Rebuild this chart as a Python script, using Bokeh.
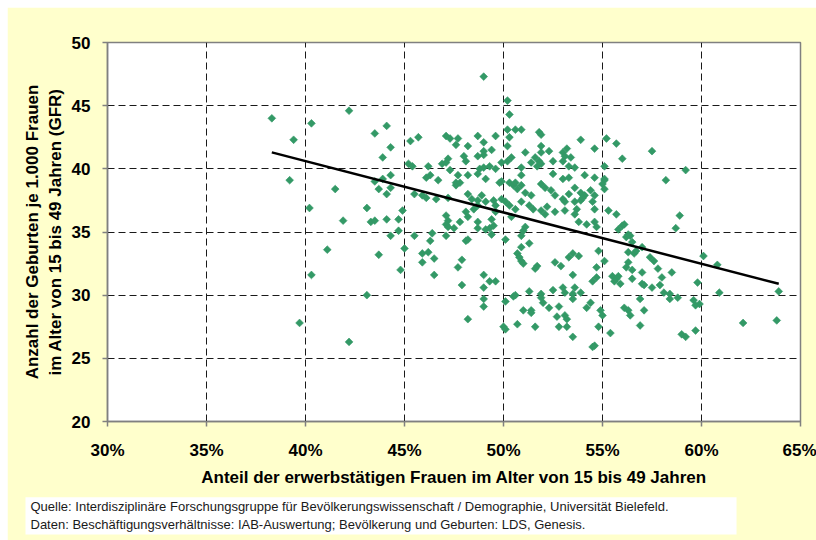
from bokeh.plotting import figure
from bokeh.models import Title, FixedTicker
from bokeh.embed import file_html
from bokeh.resources import INLINE

# Share of employed women aged 15-49 (percent) and general fertility rate (GFR)
x_pct = [
    38.3, 40.3, 42.2, 39.4, 44.1, 43.5, 44.3, 43.9, 39.2, 41.5, 43.5, 43.9, 44.3, 43.7, 44.3, 44.1,
    40.2, 43.1, 41.9, 43.3, 43.5, 44.1, 44.7, 44.7, 44.3, 41.1, 43.7, 44.8, 40.3, 43.1, 39.7, 42.2,
    50.2, 50.3, 50.2, 50.6, 45.3, 45.7, 47.1, 47.3, 47.7, 47.6, 48.7, 49.0, 48.2, 49.6, 50.3, 50.2,
    49.0, 49.4, 48.0, 47.2, 48.1, 48.7, 49.0, 50.4, 50.2, 45.2, 46.2, 46.9, 47.1, 45.4, 46.3, 46.7,
    46.1, 47.3, 47.7, 47.6, 48.2, 48.8, 49.0, 49.3, 49.6, 49.9, 48.7, 49.1, 49.8, 49.9, 50.3, 50.5,
    50.7, 47.6, 47.8, 45.5, 45.9, 46.1, 46.6, 47.2, 48.2, 48.4, 48.7, 48.9, 49.1, 49.5, 49.6, 49.9,
    50.1, 50.3, 44.9, 47.1, 47.2, 48.1, 48.2, 48.5, 48.7, 49.6, 49.4, 50.4, 50.6,
    50.9, 51.8, 51.9, 53.9, 55.2, 55.7, 56.0, 54.6, 53.2, 53.0, 53.4, 53.1, 51.9, 52.3, 51.9, 51.1,
    51.6, 51.8, 51.4, 51.7, 51.9, 52.5, 53.0, 53.3, 53.6, 50.9, 50.9, 52.5, 53.0, 53.3, 54.1, 54.6,
    55.1, 50.6, 50.9, 51.1, 51.4, 51.9, 52.1, 52.4, 53.6, 53.9, 54.1, 54.4, 54.6, 55.0, 55.1, 52.6,
    53.0, 53.1, 53.3, 50.9, 51.3, 51.5, 51.9, 52.2, 53.6, 53.9, 53.7, 54.0, 54.5, 54.6, 52.1, 52.6,
    53.1, 55.3, 55.7, 53.6,
    45.5, 46.4, 46.3, 47.1, 47.2, 47.5, 47.1, 47.8, 48.7, 48.7, 49.1, 49.3, 49.4, 49.5, 48.1, 48.2,
    45.0, 45.9, 46.2, 45.9, 46.5, 50.1, 50.7, 50.8, 46.5, 47.9, 47.7, 47.9, 49.0, 49.3, 49.6, 49.0,
    49.0, 49.0, 48.2, 50.1, 50.5, 50.0, 50.1, 50.7,
    51.1, 50.9, 51.0, 53.8, 54.2, 54.6, 54.7, 56.0, 55.8, 56.2, 56.4, 50.9, 51.3, 50.9, 51.0, 51.7,
    51.6, 52.6, 52.9, 53.3, 53.5, 53.8, 54.8, 55.1, 56.3, 56.6, 56.7, 57.0, 56.3, 56.2, 56.5, 57.0,
    54.7, 53.5, 54.5, 54.7, 55.5, 55.7, 55.8, 55.6, 55.9, 56.5, 57.0, 56.9, 57.1, 51.3, 51.9, 52.0,
    51.9, 52.5, 53.0, 53.1, 53.5, 53.5, 53.6, 53.9, 50.6, 51.0, 51.4, 51.4, 52.3, 52.8, 52.7, 53.1,
    53.2, 52.8, 53.2, 51.6, 54.2, 54.4, 54.9, 55.0, 54.8, 53.5, 54.5, 54.6, 55.4, 56.1, 56.3, 56.4,
    56.9,
    60.1, 60.8, 60.9, 59.8, 58.5, 58.0, 57.8, 57.6, 57.4, 57.1, 57.5, 57.9, 58.1, 58.4, 58.4, 58.8,
    59.6, 59.9, 59.7, 59.0, 59.2, 59.7, 62.1, 63.8, 63.9, 57.5, 59.2, 58.2, 55.1, 55.1, 58.9, 58.7,
    56.1, 56.3, 56.5, 49.0,
]
gfr = [
    44.0, 43.6, 44.6, 42.3, 43.4, 42.8, 41.7, 40.9, 39.1, 38.4, 39.0, 39.2, 39.5, 38.4, 38.5, 38.0,
    36.9, 36.9, 35.9, 35.8, 35.9, 36.0, 36.0, 35.1, 34.7, 33.6, 33.2, 32.0, 31.6, 30.0, 27.8, 26.3,
    45.4, 44.3, 43.1, 43.1, 42.2, 42.5, 42.6, 42.4, 42.4, 41.9, 42.6, 42.1, 41.8, 42.6, 42.5, 41.8,
    41.4, 41.5, 41.0, 40.8, 40.6, 41.0, 41.1, 40.9, 40.6, 40.4, 40.2, 40.4, 40.5, 40.2, 39.5, 39.1,
    39.3, 39.9, 39.5, 38.7, 39.5, 40.0, 40.1, 40.2, 40.0, 40.5, 39.6, 39.2, 38.9, 39.0, 38.9, 38.7,
    38.4, 38.9, 38.9, 38.0, 37.9, 37.7, 37.6, 37.7, 38.0, 37.6, 37.5, 37.9, 37.4, 37.5, 37.1, 37.6,
    37.4, 37.1, 36.7, 36.3, 35.9, 36.6, 36.2, 36.8, 37.1, 36.6, 36.0, 36.2, 36.8,
    43.1, 42.9, 42.7, 42.3, 42.4, 42.0, 40.8, 41.6, 41.6, 41.3, 40.9, 41.0, 41.8, 41.4, 41.3, 41.3,
    40.9, 40.6, 40.5, 40.2, 40.4, 40.6, 40.6, 40.2, 40.1, 40.1, 39.5, 39.6, 39.2, 39.3, 39.5, 39.3,
    39.1, 38.9, 38.7, 38.1, 37.9, 38.8, 38.5, 38.3, 38.5, 38.1, 37.9, 38.3, 37.9, 38.8, 38.4, 37.9,
    37.6, 37.4, 38.0, 37.4, 37.1, 36.8, 36.7, 37.0, 37.4, 37.5, 36.8, 37.7, 37.4, 36.8, 36.4, 36.6,
    36.7, 36.7, 36.4, 36.4,
    34.7, 34.9, 34.3, 35.6, 35.4, 35.3, 34.7, 35.8, 35.8, 35.3, 35.2, 35.3, 34.8, 35.5, 34.3, 34.4,
    33.7, 33.3, 33.4, 32.6, 32.9, 34.4, 33.3, 33.0, 31.6, 32.8, 32.2, 30.8, 31.6, 31.1, 31.1, 30.6,
    29.7, 29.1, 28.1, 29.5, 29.9, 27.5, 27.3, 27.7,
    35.4, 34.7, 35.1, 35.8, 35.6, 35.8, 35.4, 35.5, 35.2, 34.6, 34.7, 33.8, 34.1, 32.7, 32.5, 32.3,
    32.1, 32.6, 32.3, 33.0, 33.3, 33.1, 33.5, 32.7, 33.4, 33.3, 33.5, 33.8, 32.6, 32.2, 32.0, 31.8,
    32.2, 31.6, 31.1, 31.4, 31.5, 31.3, 31.5, 31.1, 30.9, 31.3, 30.9, 29.7, 28.8, 30.3, 30.1, 29.4,
    29.8, 30.4, 30.6, 30.2, 30.1, 29.7, 30.6, 30.2, 30.0, 28.8, 28.8, 28.6, 29.0, 29.1, 28.3, 28.4,
    28.1, 27.5, 27.5, 27.5, 29.0, 29.4, 28.8, 28.4, 27.5, 26.7, 25.9, 26.0, 27.0, 29.0, 28.8, 28.4,
    27.6,
    33.1, 32.4, 30.2, 31.0, 31.8, 31.4, 32.1, 32.7, 33.0, 30.8, 30.6, 30.8, 30.2, 30.1, 29.7, 29.8,
    29.6, 29.3, 29.2, 26.9, 26.7, 27.2, 27.8, 28.0, 30.3, 41.4, 39.9, 39.1, 40.2, 39.2, 36.3, 35.3,
    35.6, 34.8, 34.2, 47.3,
]

# Linear trend line
trend_x = [38.3, 63.9]
trend_y = [41.3, 30.9]

x_ticks = [30, 35, 40, 45, 50, 55, 60, 65]
x_tick_labels = ["30%", "35%", "40%", "45%", "50%", "55%", "60%", "65%"]
y_ticks = [20, 25, 30, 35, 40, 45, 50]

x_title = "Anteil der erwerbstätigen Frauen im Alter von 15 bis 49 Jahren"
y_title = "Anzahl der Geburten je 1.000 Frauen\nim Alter von 15 bis 49 Jahren (GFR)"
footer_text = ("Quelle: Interdisziplinäre Forschungsgruppe für Bevölkerungswissenschaft / Demographie, Universität Bielefeld.\n"
               "Daten: Beschäftigungsverhältnisse: IAB-Auswertung; Bevölkerung und Geburten: LDS, Genesis.")

FONT = "Liberation Sans"

p = figure(width=809, height=533, x_range=(30, 65), y_range=(20, 50),
           output_backend="svg", toolbar_location=None,
           min_border_left=100, min_border_right=16, min_border_top=35, min_border_bottom=119)
p.styles = {"margin-left": "7px", "margin-top": "7px"}
p.background_fill_color = "white"
p.border_fill_color = "#FFFFCC"
p.outline_line_color = "#808080"
p.outline_line_width = 1.5

# grid
p.xgrid.ticker = FixedTicker(ticks=x_ticks[1:-1])
p.ygrid.ticker = FixedTicker(ticks=y_ticks[1:-1])
for g in (p.xgrid, p.ygrid):
    g.grid_line_color = "#1a1a1a"
    g.grid_line_dash = "7 4"
    g.grid_line_width = 1

# axes
p.xaxis.ticker = FixedTicker(ticks=x_ticks)
p.xaxis.major_label_overrides = {t: l for t, l in zip(x_ticks, x_tick_labels)}
p.yaxis.ticker = FixedTicker(ticks=y_ticks)
for ax in (p.xaxis, p.yaxis):
    ax.axis_line_color = "#808080"
    ax.axis_line_width = 1.5
    ax.major_tick_line_color = "#808080"
    ax.major_tick_line_width = 1.5
    ax.major_tick_out = 5
    ax.major_tick_in = 0
    ax.minor_tick_line_color = None
    ax.major_label_text_font = FONT
    ax.major_label_text_font_style = "bold"
    ax.major_label_text_font_size = "17px"
    ax.major_label_text_color = "black"
    ax.axis_label_text_font = FONT
    ax.axis_label_text_font_style = "bold"
    ax.axis_label_text_font_size = "17px"
    ax.axis_label_text_color = "black"

p.xaxis.axis_label = x_title
p.xaxis.major_label_standoff = 14
p.xaxis.axis_label_standoff = 5
p.yaxis.axis_label = y_title
p.yaxis.major_label_standoff = 12
p.yaxis.axis_label_standoff = 4

# data
p.scatter(x_pct, gfr, marker="square", angle=0.785398, size=5.5,
          fill_color="#339966", line_color="#339966", line_width=0.6)
p.line(trend_x, trend_y, line_color="black", line_width=2.5)

# footer as a title below the x axis (not clipped to the frame)
footer = Title(text=footer_text, align="left", offset=-82, standoff=12,
               text_font=FONT, text_font_size="13px", text_font_style="normal",
               text_color="#1a1a1a", text_line_height=1.15,
               background_fill_color="white")
try:
    footer.padding = dict(left=5, right=68, top=2, bottom=3)
except Exception:
    footer.padding = 3
p.add_layout(footer, "below")

open("out.html", "w").write(file_html(p, INLINE))
